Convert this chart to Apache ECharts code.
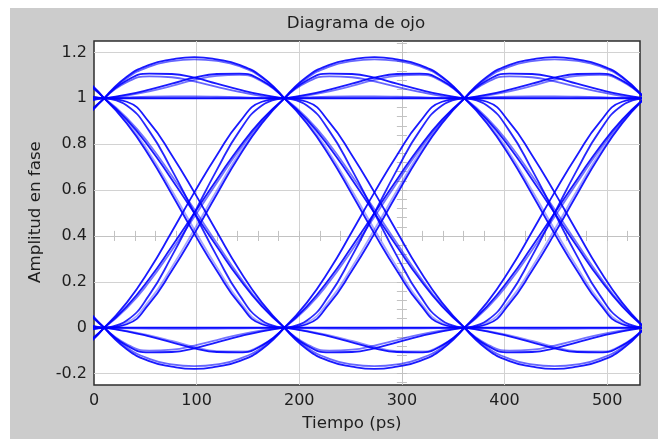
<!DOCTYPE html>
<html>
<head>
<meta charset="utf-8">
<title>Diagrama de ojo</title>
<script src="https://cdn.jsdelivr.net/npm/echarts@6/dist/echarts.min.js"></script>
<style>
  html, body { margin: 0; padding: 0; background: #ffffff; }
  #frame { position: absolute; left: 10px; top: 8px; width: 648px; height: 431px; background: #cccccc; }
  #chart { width: 648px; height: 431px; }
</style>
</head>
<body>
<div id="frame"><div id="chart"></div></div>
<script>
// Symbol timing (ps): each trace segment spans one symbol period.
const symbolPeriod = 175.5;
const symbolStarts = [-165.5, 10, 185.5, 361];
const phase = [0, 0.125, 0.25, 0.375, 0.5, 0.625, 0.75, 0.875, 1];

// Level "1" held for a symbol, with the ringing of the neighbouring symbols.
const oneFlat   = [1, 1, 1, 1, 1, 1, 1, 1, 1];
const oneFlatB  = [1, 1.004, 1.007, 1.008, 1.008, 1.007, 1.005, 1.002, 1];
const oneLead   = [1, 1.078, 1.108, 1.106, 1.090, 1.064, 1.038, 1.016, 1];
const oneLeadB  = [1, 1.070, 1.096, 1.092, 1.074, 1.050, 1.028, 1.010, 1];
const oneTrail  = [1, 1.016, 1.038, 1.064, 1.090, 1.106, 1.108, 1.078, 1];
const oneTrailB = [1, 1.012, 1.030, 1.054, 1.080, 1.098, 1.102, 1.074, 1];
const oneDome   = [1, 1.094, 1.146, 1.170, 1.180, 1.170, 1.146, 1.094, 1];
const oneDomeB  = [1, 1.088, 1.138, 1.162, 1.170, 1.163, 1.140, 1.090, 1];

// Level "0" held for a symbol.
const zeroFlat   = [0, 0, 0, 0, 0, 0, 0, 0, 0];
const zeroFlatB  = [0, -0.003, -0.005, -0.006, -0.006, -0.005, -0.004, -0.002, 0];
const zeroLead   = [0, -0.078, -0.108, -0.106, -0.090, -0.064, -0.038, -0.016, 0];
const zeroLeadB  = [0, -0.072, -0.100, -0.096, -0.078, -0.054, -0.030, -0.012, 0];
const zeroTrail  = [0, -0.016, -0.038, -0.064, -0.090, -0.106, -0.108, -0.078, 0];
const zeroTrailB = [0, -0.014, -0.034, -0.058, -0.084, -0.102, -0.104, -0.076, 0];
const zeroDome   = [0, -0.094, -0.146, -0.170, -0.180, -0.170, -0.146, -0.094, 0];
const zeroDomeB  = [0, -0.086, -0.136, -0.160, -0.168, -0.160, -0.136, -0.086, 0];

// Transitions 1 -> 0.
const fall       = [1, 0.907, 0.787, 0.646, 0.500, 0.354, 0.213, 0.093, 0];
const fallB      = [1, 0.915, 0.800, 0.662, 0.516, 0.368, 0.224, 0.098, 0];
const fallLead   = [1, 0.985, 0.895, 0.752, 0.590, 0.418, 0.251, 0.109, 0];
const fallTrail  = [1, 0.891, 0.749, 0.582, 0.410, 0.248, 0.105, 0.015, 0];
const fallTrailB = [1, 0.900, 0.762, 0.598, 0.428, 0.264, 0.116, 0.020, 0];
const fallBoth   = [1, 0.969, 0.857, 0.688, 0.500, 0.312, 0.143, 0.031, 0];

// Transitions 0 -> 1.
const rise       = [0, 0.093, 0.213, 0.354, 0.500, 0.646, 0.787, 0.907, 1];
const riseB      = [0, 0.085, 0.200, 0.338, 0.484, 0.632, 0.776, 0.902, 1];
const riseLead   = [0, 0.015, 0.105, 0.248, 0.410, 0.582, 0.749, 0.891, 1];
const riseLeadB  = [0, 0.022, 0.118, 0.264, 0.428, 0.598, 0.762, 0.898, 1];
const riseTrail  = [0, 0.109, 0.251, 0.418, 0.590, 0.752, 0.895, 0.985, 1];
const riseBoth   = [0, 0.031, 0.143, 0.312, 0.500, 0.688, 0.857, 0.969, 1];

// Axis tick values.
const timeTicks = [0, 100, 200, 300, 400, 500];
const ampTicks = [-0.2, 0, 0.2, 0.4, 0.6, 0.8, 1, 1.2];
const crossTimeTicks = [20, 40, 60, 80, 100, 120, 140, 160, 180, 200, 220, 240, 260, 280,
                        320, 340, 360, 380, 400, 420, 440, 460, 480, 500, 520];
const crossAmpTicks = [-0.24, -0.2, -0.16, -0.12, -0.08, -0.04, 0, 0.04, 0.08, 0.12, 0.16,
                       0.2, 0.24, 0.28, 0.32, 0.36, 0.44, 0.48, 0.52, 0.56, 0.6, 0.64,
                       0.68, 0.72, 0.76, 0.8, 0.84, 0.88, 0.92, 0.96, 1, 1.04, 1.08,
                       1.12, 1.16, 1.2, 1.24];
const crossTime = 300;
const crossAmp = 0.4;

// Each trace: [shape, stroke opacity, stroke width].
const traces = [
  [oneFlat, 0.95, 2], [oneFlatB, 0.6, 1.8], [oneLead, 0.9, 1.8], [oneLeadB, 0.6, 1.8], [oneTrail, 0.9, 1.8],
  [oneTrailB, 0.55, 1.8], [oneDome, 0.9, 1.8], [oneDomeB, 0.6, 1.8],
  [zeroFlat, 0.95, 2], [zeroFlatB, 0.4, 1.8], [zeroLead, 0.9, 1.8], [zeroLeadB, 0.55, 1.8], [zeroTrail, 0.9, 1.8],
  [zeroTrailB, 0.45, 1.8], [zeroDome, 0.9, 1.8], [zeroDomeB, 0.6, 1.8],
  [fall, 0.9, 1.8], [fallB, 0.55, 1.8], [fallLead, 0.9, 1.8], [fallTrail, 0.9, 1.8], [fallTrailB, 0.35, 1.8], [fallBoth, 0.85, 1.8],
  [rise, 0.9, 1.8], [riseB, 0.55, 1.8], [riseLead, 0.9, 1.8], [riseLeadB, 0.35, 1.8], [riseTrail, 0.9, 1.8], [riseBoth, 0.85, 1.8]
];

function segmentData(shape) {
  const pts = [];
  symbolStarts.forEach(function (t0) {
    phase.forEach(function (p, i) { pts.push([t0 + p * symbolPeriod, shape[i]]); });
    pts.push([t0 + symbolPeriod, null]);
  });
  return pts;
}

const gridGrey = '#d2d2d2';
const crossGrey = '#c2c2c2';
const tickHalfAmp = 0.022;
const tickHalfTime = 4.9;

const guideLines = [];
ampTicks.forEach(function (v) { guideLines.push({ yAxis: v, lineStyle: { color: gridGrey } }); });
timeTicks.filter(function (t) { return t > 0; }).forEach(function (t) {
  guideLines.push({ xAxis: t, lineStyle: { color: gridGrey } });
});
guideLines.push({ yAxis: crossAmp, lineStyle: { color: crossGrey } });
guideLines.push({ xAxis: crossTime, lineStyle: { color: crossGrey } });
crossTimeTicks.forEach(function (t) {
  guideLines.push([{ coord: [t, crossAmp - tickHalfAmp] }, { coord: [t, crossAmp + tickHalfAmp] }]);
});
crossAmpTicks.forEach(function (v) {
  guideLines.push([{ coord: [crossTime - tickHalfTime, v] }, { coord: [crossTime + tickHalfTime, v] }]);
});

// Grid and crosshair guides sit beneath the traces.
const series = [{
  type: 'line',
  data: [],
  z: 1,
  silent: true,
  markLine: {
    z: 1,
    silent: true,
    symbol: ['none', 'none'],
    label: { show: false },
    lineStyle: { type: 'solid', width: 1, color: crossGrey },
    data: guideLines
  }
}];
traces.forEach(function (tr) {
  series.push({
    type: 'line',
    data: segmentData(tr[0]),
    smooth: 0.5,
    showSymbol: false,
    connectNulls: false,
    z: 6,
    silent: true,
    lineStyle: { color: '#0000ff', width: tr[2], opacity: tr[1] }
  });
});

const chart = echarts.init(document.getElementById('chart'), null, { renderer: 'canvas' });
chart.setOption({
  animation: false,
  backgroundColor: '#cccccc',
  textStyle: { fontFamily: 'DejaVu Sans' },
  grid: {
    left: 84, top: 33, width: 546, height: 344,
    show: true, backgroundColor: '#ffffff', borderColor: '#2e2e2e', borderWidth: 1.5
  },
  xAxis: {
    type: 'value', min: 0, max: 532,
    axisLine: { show: false }, axisTick: { show: false },
    splitLine: { show: false },
    axisLabel: { customValues: timeTicks, fontSize: 16, color: '#1e1e1e', margin: 8 }
  },
  yAxis: {
    type: 'value', min: -0.25, max: 1.25,
    axisLine: { show: false }, axisTick: { show: false },
    splitLine: { show: false },
    axisLabel: { customValues: ampTicks, fontSize: 16, color: '#1e1e1e', margin: 7 }
  },
  graphic: [
    { type: 'text', x: 346, y: 16, silent: true,
      style: { text: 'Diagrama de ojo', font: '16.7px "DejaVu Sans"', fill: '#1e1e1e', align: 'center', verticalAlign: 'middle' } },
    { type: 'text', x: 342, y: 416, silent: true,
      style: { text: 'Tiempo (ps)', font: '16.7px "DejaVu Sans"', fill: '#1e1e1e', align: 'center', verticalAlign: 'middle' } },
    { type: 'text', x: 26, y: 204, rotation: Math.PI / 2, silent: true,
      style: { text: 'Amplitud en fase', font: '16.7px "DejaVu Sans"', fill: '#1e1e1e', align: 'center', verticalAlign: 'middle' } }
  ],
  series: series
});
</script>
</body>
</html>
